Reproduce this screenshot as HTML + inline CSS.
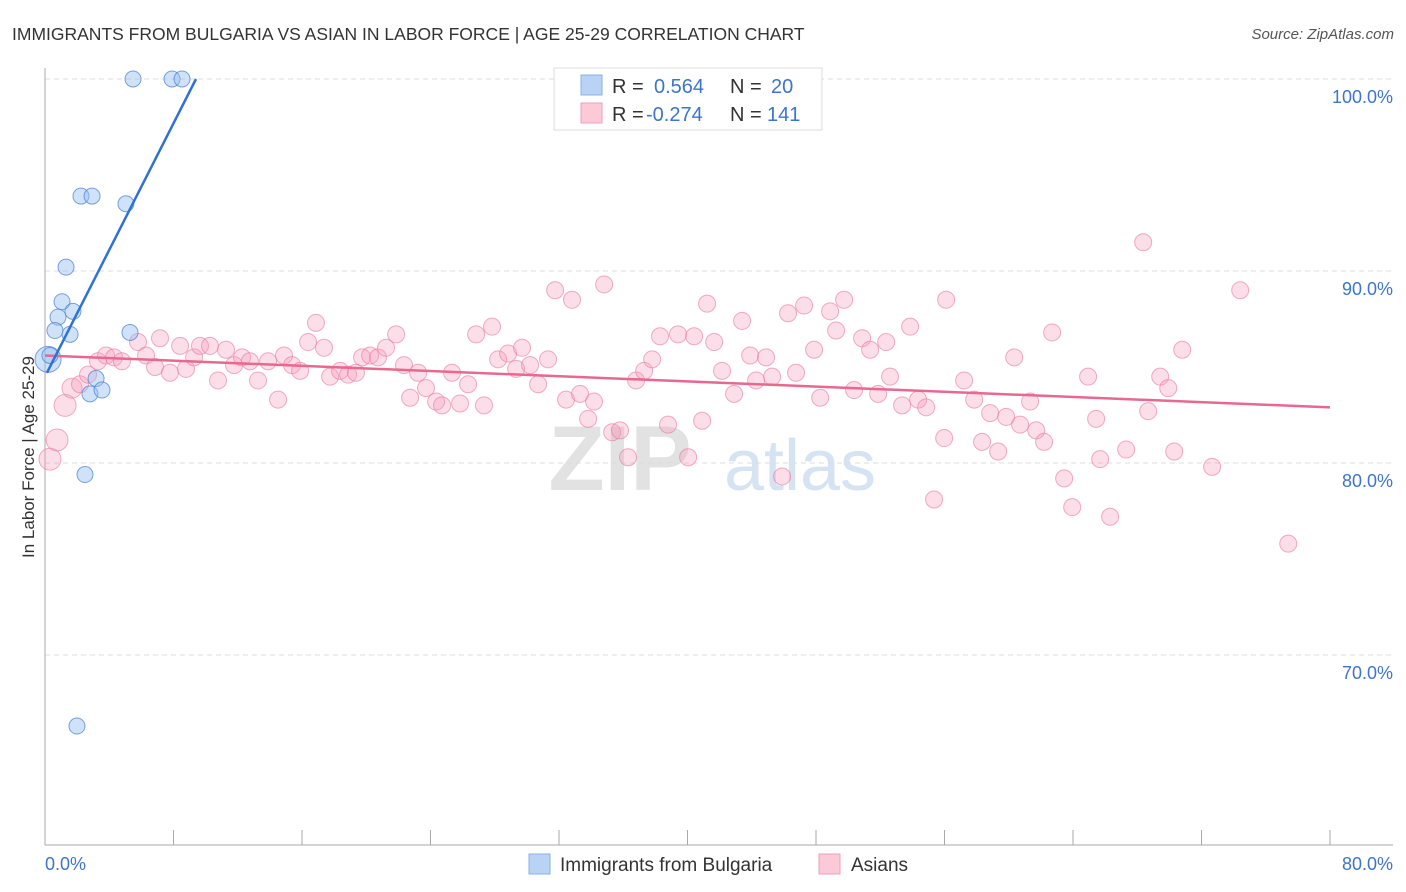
<!DOCTYPE html>
<html><head><meta charset="utf-8"><style>
html,body{margin:0;padding:0;background:#fff;width:1406px;height:892px;overflow:hidden;font-family:"Liberation Sans",sans-serif}
svg text{font-family:"Liberation Sans",sans-serif}
</style></head><body>
<svg id="chart" width="1406" height="892" xmlns="http://www.w3.org/2000/svg">
<text x="12" y="40" font-size="17.5" fill="#333">IMMIGRANTS FROM BULGARIA VS ASIAN IN LABOR FORCE | AGE 25-29 CORRELATION CHART</text>
<text x="1394" y="39" font-size="15" fill="#555" font-style="italic" text-anchor="end">Source: ZipAtlas.com</text>
<g>
<text x="620" y="490" font-size="92" fill="#e2e2e2" font-family="Liberation Serif" text-anchor="middle" font-weight="bold">ZIP</text>
<text x="800" y="490" font-size="72" fill="#d6e3f3" text-anchor="middle">atlas</text>
</g>
<g id="grid"></g>
<g id="axes"></g>
<g id="pts"></g>
<g id="trends"></g>
<text transform="translate(34,457) rotate(-90)" font-size="17" fill="#333" text-anchor="middle">In Labor Force | Age 25-29</text>
<g>
<rect x="554" y="68" width="268" height="62" fill="#fff" stroke="#ddd"/>
<rect x="581" y="75" width="21" height="20" fill="#b8d3f5" stroke="#8ab0e4"/>
<rect x="581" y="103" width="21" height="20" fill="#fbc9d8" stroke="#eea0b8"/>
<text x="612" y="93" font-size="20" fill="#333">R = </text><text x="654" y="93" font-size="20" fill="#3d74cc">0.564</text>
<text x="730" y="93" font-size="20" fill="#333">N = </text><text x="771" y="93" font-size="20" fill="#3d74cc">20</text>
<text x="612" y="121" font-size="20" fill="#333">R = </text><text x="646" y="121" font-size="20" fill="#3d74cc">-0.274</text>
<text x="730" y="121" font-size="20" fill="#333">N = </text><text x="767" y="121" font-size="20" fill="#3d74cc">141</text>
</g>
<g>
<rect x="529" y="854" width="21" height="20" fill="#b8d3f5" stroke="#8ab0e4"/>
<text x="560" y="871" font-size="19" fill="#333">Immigrants from Bulgaria</text>
<rect x="819" y="854" width="21" height="20" fill="#fbc9d8" stroke="#eea0b8"/>
<text x="851" y="871" font-size="19" fill="#333">Asians</text>
</g>
</svg>
<script>
const yTicks=[70,80,90,100];
const yTickLabels=["70.0%","80.0%","90.0%","100.0%"];
const xTicks=[0,8,16,24,32,40,48,56,64,72,80];
const xEndLabels=["0.0%","80.0%"];
const bulgariaX=[5.48,7.91,8.53,2.24,2.93,5.04,1.31,1.06,1.74,0.81,0.62,1.56,5.29,0.19,3.18,2.80,3.55,2.49,1.99,0.31];
const bulgariaY=[100,100,100,93.9,93.9,93.5,90.2,88.4,87.9,87.6,86.9,86.7,86.8,85.4,84.4,83.6,83.8,79.4,66.3,85.6];
const bulgariaSize=[1,1,1,1,1,1,1,1,1,1,1,1,1,2,1,1,1,1,1,1];
const asianX=[0.31,0.75,1.25,1.68,2.18,2.68,3.30,3.80,4.30,4.79,5.79,6.29,6.85,7.16,7.78,8.41,8.78,9.28,9.65,10.27,10.77,11.27,11.77,12.27,12.76,13.26,13.89,14.51,14.88,15.38,15.88,16.38,16.87,17.37,17.75,18.37,18.87,19.36,19.74,20.24,20.73,21.23,21.86,22.35,22.73,23.23,23.72,24.35,24.72,25.34,25.84,26.34,26.84,27.33,27.83,28.21,28.83,29.33,29.70,30.20,30.70,31.32,31.76,32.44,32.81,33.31,33.81,34.18,34.81,35.31,35.80,36.30,36.80,37.30,37.80,38.29,38.79,39.41,40.04,40.41,40.91,41.22,41.66,42.15,42.90,43.40,43.90,44.27,44.89,45.27,45.89,46.26,46.76,47.26,47.88,48.26,48.88,49.25,49.75,50.37,50.87,51.37,51.87,52.37,52.61,53.36,53.86,54.36,54.86,55.35,55.98,56.10,57.22,57.85,58.34,58.84,59.34,59.84,60.34,60.71,61.33,61.71,62.20,62.70,63.45,63.95,64.94,65.44,65.69,66.31,67.31,68.37,68.68,69.43,69.93,70.30,70.80,72.66,74.41,77.40];
const asianY=[80.2,81.2,83.0,83.9,84.1,84.6,85.3,85.6,85.5,85.3,86.3,85.6,85.0,86.5,84.7,86.1,84.9,85.5,86.1,86.1,84.3,85.9,85.1,85.5,85.3,84.3,85.3,83.3,85.6,85.1,84.8,86.3,87.3,86.0,84.5,84.8,84.6,84.7,85.5,85.6,85.5,86.0,86.7,85.1,83.4,84.7,83.9,83.2,83.0,84.7,83.1,84.1,86.7,83.0,87.1,85.4,85.7,84.9,86.0,85.1,84.1,85.4,89.0,83.3,88.5,83.6,82.3,83.2,89.3,81.6,81.7,80.3,84.3,84.8,85.4,86.6,82.0,86.7,80.3,86.6,82.2,88.3,86.3,84.8,83.6,87.4,85.6,84.3,85.5,84.5,79.3,87.8,84.7,88.2,85.9,83.4,87.9,86.9,88.5,83.8,86.5,85.9,83.6,86.3,84.5,83.0,87.1,83.3,82.9,78.1,81.3,88.5,84.3,83.3,81.1,82.6,80.6,82.4,85.5,82.0,83.2,81.7,81.1,86.8,79.2,77.7,84.5,82.3,80.2,77.2,80.7,91.5,82.7,84.5,83.9,80.6,85.9,79.8,89.0,75.8];
const asianBig=[3,3,3,2];
const bulgariaTrendX=[0.12,9.4];
const bulgariaTrendY=[84.7,100];
const asianTrendX=[0,80];
const asianTrendY=[85.6,82.9];

const NS="http://www.w3.org/2000/svg";
const sx=v=>45+v*(1330-45)/80;
const sy=v=>79+(100-v)*19.2;
function mk(tag,attrs,parent){const e=document.createElementNS(NS,tag);for(const k in attrs)e.setAttribute(k,attrs[k]);parent.appendChild(e);return e;}
const grid=document.getElementById('grid'),axes=document.getElementById('axes'),pts=document.getElementById('pts'),tr=document.getElementById('trends');
yTicks.forEach((t,i)=>{
 const l=mk('line',{x1:45,x2:1393,y1:sy(t),y2:sy(t),stroke:'#dcdcdc','stroke-dasharray':'5,4'},grid);
 
 
 const tx=mk('text',{x:1393,y:sy(t)+24,'font-size':18,fill:'#3d74cc','text-anchor':'end'},axes);
 tx.textContent=yTickLabels[i];
 
 
});
const ax=mk('line',{x1:45,x2:45,y1:68,y2:845,stroke:'#aaa'},axes);


const bx=mk('line',{x1:45,x2:1393,y1:845,y2:845,stroke:'#aaa'},axes);


xTicks.forEach(t=>{
 const l=mk('line',{x1:sx(t),x2:sx(t),y1:830,y2:845,stroke:'#aaa'},axes);
 
 
});
const xl0=mk('text',{x:45,y:870,'font-size':18,fill:'#3d74cc'},axes);xl0.textContent=xEndLabels[0];


const xl1=mk('text',{x:1393,y:870,'font-size':18,fill:'#3d74cc','text-anchor':'end'},axes);xl1.textContent=xEndLabels[1];


asianX.forEach((x,i)=>{
 const r=i<asianBig.length?[8,8,10,11][asianBig[i]]:8.5;
 const c=mk('circle',{cx:sx(x),cy:sy(asianY[i]),r:r,fill:'rgba(246,160,188,0.35)',stroke:'rgba(232,120,158,0.6)','stroke-width':1},pts);
 
 
});
bulgariaX.forEach((x,i)=>{
 const c=mk('circle',{cx:sx(x),cy:sy(bulgariaY[i]),r:bulgariaSize[i]>1?13:8,fill:'rgba(150,190,240,0.45)',stroke:'rgba(70,125,210,0.7)','stroke-width':1},pts);
 
 
});
const t1=mk('line',{x1:sx(asianTrendX[0]),y1:sy(asianTrendY[0]),x2:sx(asianTrendX[1]),y2:sy(asianTrendY[1]),stroke:'#e8688f','stroke-width':2.5},tr);


const t2=mk('line',{x1:sx(bulgariaTrendX[0]),y1:sy(bulgariaTrendY[0]),x2:sx(bulgariaTrendX[1]),y2:sy(bulgariaTrendY[1]),stroke:'#2f72d4','stroke-width':2.5},tr);


</script>
</body></html>
